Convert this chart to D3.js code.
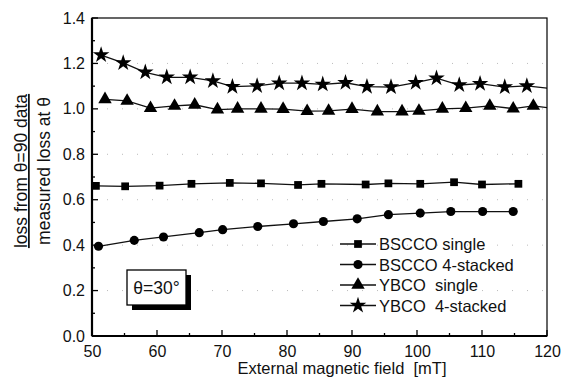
<!DOCTYPE html>
<html>
<head>
<meta charset="utf-8">
<script src="https://cdn.jsdelivr.net/npm/d3@7"></script>
<style>
  body { margin: 0; background: #fff; }
  svg { font-family: "Liberation Sans", Arial, sans-serif; }
  text { fill: #111; }
</style>
</head>
<body>
<svg id="chart" width="569" height="380"></svg>
<script>
// data
const bsccoSingleX = [50.6, 55.1, 60.4, 65.3, 71.2, 76.0, 81.7, 85.3, 92.1, 95.6, 100.5, 105.7, 110.0, 115.6];
const bsccoSingleY = [0.661, 0.659, 0.662, 0.670, 0.674, 0.672, 0.665, 0.670, 0.667, 0.672, 0.670, 0.677, 0.667, 0.670];

const bscco4X = [51.0, 56.5, 61.0, 66.5, 70.1, 75.5, 81.0, 85.6, 90.8, 95.6, 100.5, 105.2, 110.1, 114.8];
const bscco4Y = [0.395, 0.421, 0.436, 0.455, 0.468, 0.482, 0.494, 0.504, 0.516, 0.534, 0.541, 0.548, 0.548, 0.548];

const ybcoSingleX = [52.0, 55.4, 59.0, 62.7, 65.8, 69.3, 72.4, 76.0, 79.4, 83.1, 86.4, 90.0, 93.9, 97.7, 100.3, 103.9, 107.5, 111.2, 114.8, 117.9, 121.5];
const ybcoSingleY = [1.042, 1.035, 1.003, 1.013, 1.018, 0.997, 1.000, 1.000, 0.999, 0.990, 0.991, 0.999, 0.988, 0.988, 0.991, 1.000, 1.003, 1.013, 1.001, 1.013, 1.000];

const ybco4X = [51.4, 54.8, 58.2, 61.5, 65.1, 68.6, 71.6, 75.4, 78.8, 82.3, 85.5, 89.0, 92.3, 96.0, 99.8, 103.0, 106.5, 109.7, 113.5, 116.9, 121.5];
const ybco4Y = [1.237, 1.202, 1.161, 1.139, 1.139, 1.123, 1.098, 1.101, 1.113, 1.113, 1.108, 1.115, 1.098, 1.096, 1.115, 1.135, 1.105, 1.111, 1.096, 1.101, 1.086];

const seriesNames = ["BSCCO single", "BSCCO 4-stacked", "YBCO  single", "YBCO  4-stacked"];
const seriesSymbols = ["square", "circle", "triangle", "star"];

const xTicks = [50, 60, 70, 80, 90, 100, 110, 120];
const yTicks = [0.0, 0.2, 0.4, 0.6, 0.8, 1.0, 1.2, 1.4];

//layout
const plotLeft = 92, plotRight = 547, plotTop = 18, plotBottom = 336;

const svg = d3.select("#chart");

const x = d3.scaleLinear().domain([50, 120]).range([plotLeft, plotRight]);
const y = d3.scaleLinear().domain([0, 1.4]).range([plotBottom, plotTop]);

const symbolTypes = {
    square: d3.symbolSquare,
    circle: d3.symbolCircle,
    triangle: d3.symbolTriangle,
    star: d3.symbolStar
};
const symbolSizes = {square: 60, circle: 66, triangle: 78, star: 85};

//clip
svg.append("defs").append("clipPath").attr("id", "clip")
    .append("rect")
    .attr("x", plotLeft).attr("y", plotTop)
    .attr("width", plotRight - plotLeft).attr("height", plotBottom - plotTop);

//faint dotted grid
svg.append("g")
    .selectAll("line")
    .data(yTicks.slice(1, -1))
    .join("line")
    .attr("x1", plotLeft).attr("x2", plotRight)
    .attr("y1", d => y(d)).attr("y2", d => y(d))
    .attr("stroke", "#bbb")
    .attr("stroke-width", 1)
    .attr("stroke-dasharray", "1,14");

//series
const series = [
    {xs: bsccoSingleX, ys: bsccoSingleY},
    {xs: bscco4X, ys: bscco4Y},
    {xs: ybcoSingleX, ys: ybcoSingleY},
    {xs: ybco4X, ys: ybco4Y}
];

const line = d3.line().x(d => x(d[0])).y(d => y(d[1]));
const plot = svg.append("g").attr("clip-path", "url(#clip)");

series.forEach(function(s, i) {
    const pts = s.xs.map((v, j) => [v, s.ys[j]]);
    plot.append("path")
        .datum(pts)
        .attr("d", line)
        .attr("fill", "none")
        .attr("stroke", "#111")
        .attr("stroke-width", 1.3);
    const sym = d3.symbol().type(symbolTypes[seriesSymbols[i]]).size(symbolSizes[seriesSymbols[i]]);
    plot.selectAll(".m" + i)
        .data(pts.filter(p => p[0] <= 120))
        .join("path")
        .attr("class", "m" + i)
        .attr("transform", p => "translate(" + x(p[0]) + "," + y(p[1]) + ")")
        .attr("d", sym)
        .attr("fill", "#000");
});

//axes
const xAxis = d3.axisBottom(x).tickValues(xTicks).tickSize(0).tickPadding(10).tickFormat(d3.format("d"));
const gX = svg.append("g")
    .attr("transform", "translate(0," + plotBottom + ")")
    .call(xAxis);
gX.select(".domain").remove();
gX.selectAll("text").style("font-size", "16px").style("font-family", "'Liberation Sans', Arial, sans-serif");

const yAxis = d3.axisLeft(y).tickValues(yTicks).tickSize(0).tickPadding(7).tickFormat(d3.format(".1f"));
const gY = svg.append("g")
    .attr("transform", "translate(" + plotLeft + ",0)")
    .call(yAxis);
gY.select(".domain").remove();
gY.selectAll("text").style("font-size", "16px").style("font-family", "'Liberation Sans', Arial, sans-serif");

//inward ticks
const xMinor = d3.range(50, 121, 5);
svg.append("g").selectAll("line")
    .data(xMinor)
    .join("line")
    .attr("x1", d => x(d)).attr("x2", d => x(d))
    .attr("y1", plotBottom).attr("y2", d => plotBottom - (d % 10 === 0 ? 6 : 3))
    .attr("stroke", "#000").attr("stroke-width", 1.3);

const yMinor = d3.range(0, 15).map(d => d / 10);
svg.append("g").selectAll("line")
    .data(yMinor)
    .join("line")
    .attr("y1", d => y(d)).attr("y2", d => y(d))
    .attr("x1", plotLeft).attr("x2", (d, i) => plotLeft + (i % 2 === 0 ? 6 : 3))
    .attr("stroke", "#000").attr("stroke-width", 1.3);

//frame
svg.append("rect")
    .attr("x", plotLeft).attr("y", plotTop)
    .attr("width", plotRight - plotLeft).attr("height", plotBottom - plotTop)
    .attr("fill", "none")
    .attr("stroke", "#000")
    .attr("stroke-width", 1.2);
svg.append("line")
    .attr("x1", plotLeft).attr("x2", plotLeft).attr("y1", plotTop).attr("y2", plotBottom)
    .attr("stroke", "#000").attr("stroke-width", 2.2);
svg.append("line")
    .attr("x1", plotLeft).attr("x2", plotRight).attr("y1", plotBottom).attr("y2", plotBottom)
    .attr("stroke", "#000").attr("stroke-width", 2.2);

//axis titles
svg.append("text")
    .attr("x", 342)
    .attr("y", 374)
    .style("text-anchor", "middle")
    .style("font-size", "16.5px")
    .attr("xml:space", "preserve")
    .text("External magnetic field  [mT]");

const yl = svg.append("g")
    .attr("transform", "translate(0," + 171 + ") rotate(-90)");
yl.append("text")
    .attr("x", 0).attr("y", 27)
    .style("text-anchor", "middle")
    .style("font-size", "17.5px")
    .style("text-decoration", "underline")
    .text("loss from \u03b8=90 data");
yl.append("text")
    .attr("x", 0).attr("y", 50)
    .style("text-anchor", "middle")
    .style("font-size", "17.5px")
    .text("measured loss at \u03b8");

//legend
const legend = svg.append("g").attr("transform", "translate(340,244)");
seriesNames.forEach(function(name, i) {
    const row = legend.append("g").attr("transform", "translate(0," + (i * 20.5) + ")");
    row.append("line")
        .attr("x1", 0).attr("x2", 36)
        .attr("stroke", "#111").attr("stroke-width", 1.3);
    row.append("path")
        .attr("transform", "translate(18,0)")
        .attr("d", d3.symbol().type(symbolTypes[seriesSymbols[i]]).size(symbolSizes[seriesSymbols[i]]))
        .attr("fill", "#000");
    row.append("text")
        .attr("x", 39).attr("y", 6)
        .style("font-size", "16.5px")
        .attr("xml:space", "preserve")
        .text(name);
});

//theta box
svg.append("rect")
    .attr("x", 132).attr("y", 275)
    .attr("width", 59).attr("height", 35)
    .attr("fill", "#000");
svg.append("rect")
    .attr("x", 127).attr("y", 270)
    .attr("width", 59).attr("height", 35)
    .attr("fill", "#fff")
    .attr("stroke", "#000")
    .attr("stroke-width", 1.3);
svg.append("text")
    .attr("x", 156.5).attr("y", 294)
    .style("text-anchor", "middle")
    .style("font-size", "17.5px")
    .text("\u03b8=30\u00b0");
</script>
</body>
</html>
